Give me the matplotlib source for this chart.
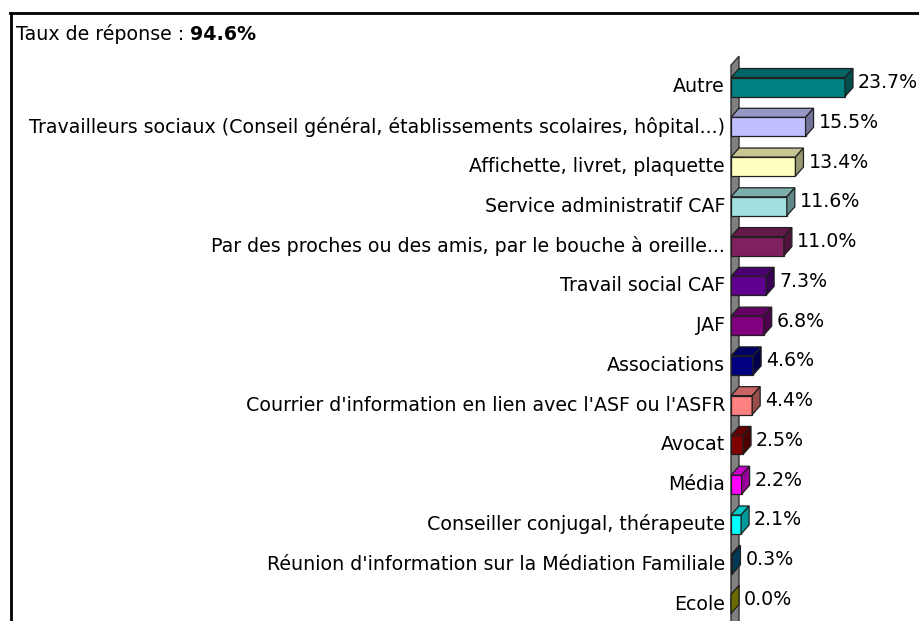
import matplotlib
matplotlib.use("Agg")
import numpy as np
import matplotlib.pyplot as plt
from matplotlib.patches import Polygon, Rectangle
from matplotlib.colors import to_rgb

plt.rcParams['font.family'] = ['DejaVu Sans']

# Sources d'information, du haut vers le bas
categories = [
    "Autre",
    "Travailleurs sociaux (Conseil général, établissements scolaires, hôpital...)",
    "Affichette, livret, plaquette",
    "Service administratif CAF",
    "Par des proches ou des amis, par le bouche à oreille...",
    "Travail social CAF",
    "JAF",
    "Associations",
    "Courrier d'information en lien avec l'ASF ou l'ASFR",
    "Avocat",
    "Média",
    "Conseiller conjugal, thérapeute",
    "Réunion d'information sur la Médiation Familiale",
    "Ecole",
]
values = [23.7, 15.5, 13.4, 11.6, 11.0, 7.3, 6.8, 4.6, 4.4, 2.5, 2.2, 2.1, 0.3, 0.0]
colors = ["#008080", "#C0C0FF", "#FFFFC0", "#A0E0E0", "#802060", "#600090",
          "#800080", "#000080", "#FF8080", "#800000", "#FF00FF", "#00FFFF",
          "#006090", "#B0B000"]
response_rate = "94.6%"

FS = 13.7
W, H = 919, 621
fig = plt.figure(figsize=(W / 100, H / 100), dpi=100)
ax = fig.add_axes([0, 0, 1, 1])
ax.axis("off")

# axe des valeurs : 0 % au pixel 731, 4.81 px par point
px_per_pct = 4.81
x0_px = 731
ax.set_xlim(-x0_px / px_per_pct, (W - x0_px) / px_per_pct)
row_px = 39.77
y0_px = 87
ax.set_ylim((H - y0_px) / row_px, -y0_px / row_px)

dx = 8 / px_per_pct       # profondeur 3D en x
dy = 9 / row_px           # profondeur 3D en y
half = 9.5 / row_px       # demi-hauteur d'une barre


def shade(c, f):
    r, g, b = to_rgb(c)
    return (r * f, g * f, b * f)


# paroi grise à gauche des barres
wall_top = -0.55
ax.add_patch(Polygon([(0, wall_top), (dx, wall_top - dy), (dx, 20), (0, 20)],
                     closed=True, facecolor="#808080", edgecolor="#303030", lw=1))

for i, (v, c) in enumerate(zip(values, colors)):
    yt, yb = i - half, i + half
    # face avant
    ax.add_patch(Rectangle((0, yt), v, 2 * half, facecolor=c,
                           edgecolor="#202020", lw=0.9, zorder=3))
    # dessus
    ax.add_patch(Polygon([(0, yt), (dx, yt - dy), (v + dx, yt - dy), (v, yt)],
                         closed=True, facecolor=shade(c, 0.78),
                         edgecolor="#202020", lw=0.9, zorder=3))
    # côté droit
    ax.add_patch(Polygon([(v, yt), (v + dx, yt - dy), (v + dx, yb - dy), (v, yb)],
                         closed=True, facecolor=shade(c, 0.6),
                         edgecolor="#202020", lw=0.9, zorder=3))
    ax.text(v + dx + 5 / px_per_pct, i - dy / 2, f"{v:.1f}%", fontsize=FS,
            va="center", ha="left", zorder=4)
    ax.text(-6 / px_per_pct, i, categories[i], fontsize=FS,
            va="center", ha="right", zorder=4)

# cadre
fig.add_artist(plt.Line2D([10 / W, 1.0], [1 - 13 / H, 1 - 13 / H],
                          transform=fig.transFigure, color="black", lw=2))
fig.add_artist(plt.Line2D([11 / W, 11 / W], [0, 1 - 13 / H],
                          transform=fig.transFigure, color="black", lw=2))

t = fig.text(16 / W, 1 - 34 / H, "Taux de réponse : ", fontsize=FS, va="center")
fig.canvas.draw()
bb = t.get_window_extent()
fig.text(bb.x1 / W, 1 - 34 / H, response_rate, fontsize=FS, va="center", fontweight="bold")

fig.savefig("out.png", dpi=100)
